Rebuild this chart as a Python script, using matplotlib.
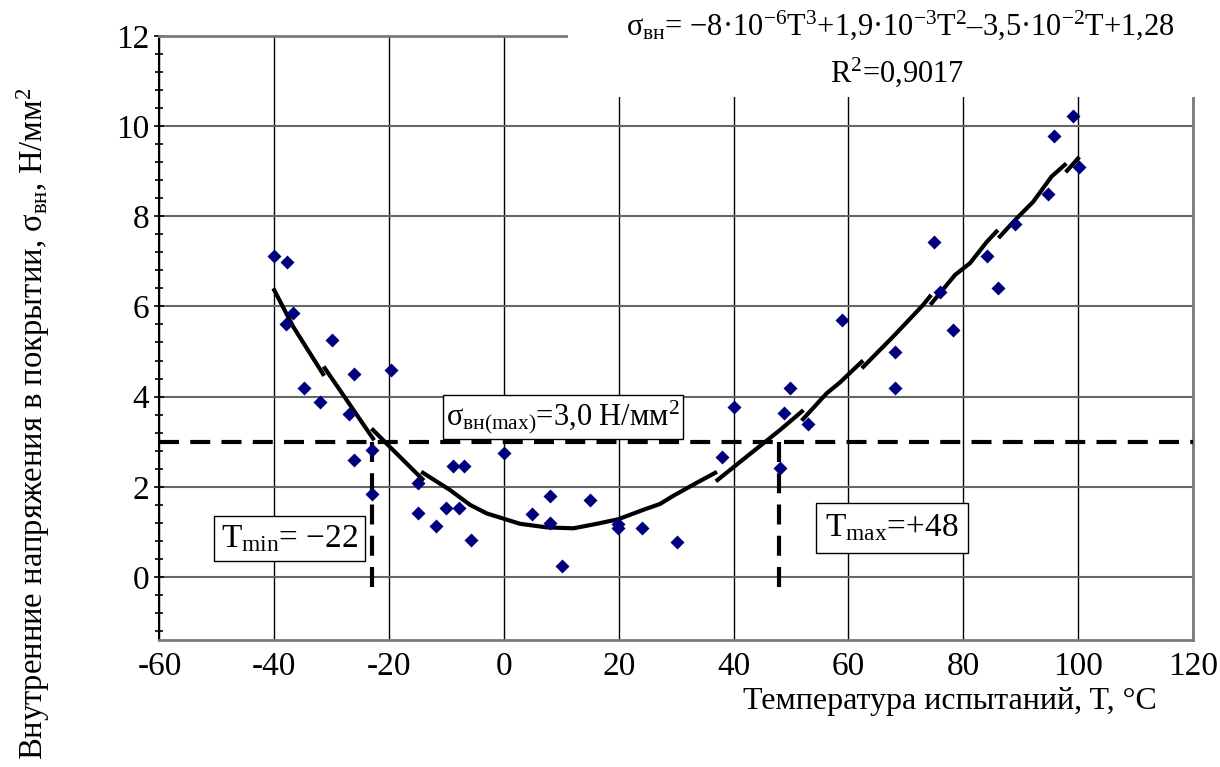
import numpy as np
import matplotlib
matplotlib.use("Agg")
import matplotlib.pyplot as plt
from matplotlib.patches import Rectangle
from matplotlib.ticker import MultipleLocator

plt.rcParams['font.family'] = ['Liberation Serif', 'DejaVu Serif']
plt.rcParams['mathtext.fontset'] = 'custom'
plt.rcParams['mathtext.rm'] = 'Liberation Serif'
plt.rcParams['mathtext.it'] = 'Liberation Serif:italic'
plt.rcParams['mathtext.default'] = 'regular'
plt.rcParams['axes.unicode_minus'] = False

# измерения: температура испытаний, °C / внутренние напряжения, Н/мм2
temp = [-40, -37.8, -36.7, -38, -34.8, -32, -29.9, -26.1, -26.9, -26.1,
        -22.9, -22.9, -19.7, -14.9, -14.9, -11.8, -10.1, -8.9, -7.8, -6.9,
        -5.8, 0, 4.9, 8.1, 8, 10.2, 15, 19.9, 19.9, 24.1,
        30.1, 38, 40.1, 48.1, 48.8, 49.9, 53, 58.9, 68.1, 68.1,
        75, 76, 78.2, 84.1, 86.1, 89.1, 94.8, 95.9, 99.1, 100.2]
stress = [7.12, 6.98, 5.85, 5.61, 4.19, 3.88, 5.25, 4.50, 3.61, 2.59,
          2.82, 1.84, 4.59, 2.09, 1.43, 1.13, 1.52, 2.46, 1.52, 2.46,
          0.82, 2.76, 1.40, 1.80, 1.19, 0.25, 1.71, 1.17, 1.08, 1.09,
          0.78, 2.65, 3.76, 2.42, 3.63, 4.20, 3.39, 5.70, 5.00, 4.19,
          7.43, 6.33, 5.48, 7.12, 6.41, 7.82, 8.49, 9.78, 10.22, 9.10]

# линия тренда (куски как на рисунке, nan = разрыв)
nan = np.nan
fit_t = [-40.0, -36.7, -31.5, nan, -31.2, -28.6, -22.8, nan, -22.8, -19.9, -14.2, nan,
         -14.1, -9.4, -5.9, -3.0, 2.8, 7.5, 12.1, 16.2, 19.9, 24.3, 27.2, 29.5, 33.6, 36.8, nan,
         37.2, 42.3, 48.1, 51.9, nan, 52.1, 56.2, 58.5, 62.3, nan,
         62.6, 67.8, 73.0, 74.2, nan, 74.5, 78.6, 81.2, 84.1, 85.8, nan,
         86.4, 89.3, 92.2, 95.4, 97.7, nan, 98.1, 100.0]
fit_s = [6.36, 5.55, 4.50, nan, 4.63, 4.15, 3.07, nan, 3.26, 2.89, 2.17, nan,
         2.31, 1.93, 1.60, 1.41, 1.18, 1.10, 1.08, 1.18, 1.28, 1.49, 1.62, 1.80, 2.09, 2.31, nan,
         2.15, 2.67, 3.26, 3.67, nan, 3.50, 4.07, 4.31, 4.77, nan,
         4.66, 5.33, 6.03, 6.22, nan, 6.07, 6.70, 6.96, 7.43, 7.66, nan,
         7.55, 7.95, 8.32, 8.88, 9.14, nan, 9.01, 9.28]

sigma_max = 3.0
t_min = -23
t_max = 48

fig = plt.figure(figsize=(12.2, 7.67), dpi=100)
ax = fig.add_axes([0.1307, 0.1654, 0.8470, 0.7879])

ax.set_xlim(-60, 120)
ax.set_ylim(-1.4, 12)
ax.xaxis.set_major_locator(MultipleLocator(20))
ax.yaxis.set_major_locator(MultipleLocator(2))
ax.yaxis.set_minor_locator(MultipleLocator(0.4))

ax.set_axisbelow(True)
ax.xaxis.grid(True, color='black', lw=1.0)
ax.yaxis.grid(True, color='#666666', lw=1.5)
for s in ['top', 'right', 'bottom']:
    ax.spines[s].set_color('#7a7a7a')
    ax.spines[s].set_linewidth(2)
ax.spines['left'].set_linewidth(1.5)

ax.tick_params(axis='x', length=0, pad=8, labelsize=24)
ax.tick_params(axis='y', which='major', direction='inout', length=7, width=1.2, pad=4, labelsize=24)
ax.tick_params(axis='y', which='minor', direction='inout', length=6, width=1.2)

dash = (0, (4.8, 2.7))
ax.plot([-60, 120], [sigma_max, sigma_max], color='black', lw=3, ls=dash, zorder=3)
ax.plot([t_min, t_min], [sigma_max, -0.3], color='black', lw=3, ls=dash, zorder=3)
ax.plot([t_max, t_max], [sigma_max, -0.3], color='black', lw=3, ls=dash, zorder=3)

ax.plot(fit_t, fit_s, color='black', lw=3, zorder=4)
ax.plot(temp, stress, ls='none', marker='D', ms=7.5, color='#00007f', mec='none', zorder=5)

box = dict(facecolor='white', edgecolor='black', lw=1.0, pad=2)
ax.text(10.3, 3.55, 'σ$_{вн(max)}$=3,0 Н/мм$^2$', fontsize=22, ha='center', va='center',
        bbox=box, zorder=6)
ax.text(-37.4, 0.85, 'T$_{min}$= −22', fontsize=24, ha='center', va='center',
        bbox=dict(box, pad=5), zorder=6)
ax.text(67.6, 1.09, 'T$_{max}$=+48', fontsize=24, ha='center', va='center',
        bbox=dict(box, pad=7), zorder=6)

# белое поле под уравнением тренда
fig.add_artist(Rectangle((568 / 1220, 1 - 97 / 767), 1, 1, transform=fig.transFigure,
                         facecolor='white', edgecolor='none', zorder=2))
fig.text(900 / 1220, 1 - 25 / 767,
         'σ$_{вн}$= −8·10$^{-6}$T$^3$+1,9·10$^{-3}$T$^2$–3,5·10$^{-2}$T+1,28',
         fontsize=22, ha='center', va='center', zorder=3)
fig.text(897 / 1220, 1 - 72 / 767, 'R$^2$=0,9017', fontsize=22, ha='center', va='center', zorder=3)

fig.text(950 / 1220, 1 - 702 / 767, 'Температура испытаний, T, °C', fontsize=23,
         ha='center', va='center')
fig.text(33 / 1220, 1 - 424 / 767, 'Внутренние напряжения в покрытии, σ$_{вн}$, Н/мм$^2$',
         fontsize=23.5, rotation=90, ha='center', va='center')

fig.savefig('out.png', dpi=100, facecolor='white')
